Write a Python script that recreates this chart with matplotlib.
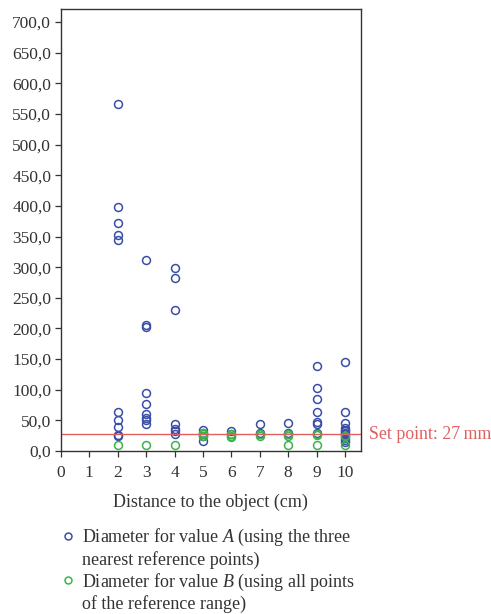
import matplotlib
matplotlib.use('Agg')
import matplotlib.pyplot as plt
from matplotlib.lines import Line2D
from matplotlib.ticker import FuncFormatter, MultipleLocator
import matplotlib.transforms as mtransforms

plt.rcParams['font.family'] = ['Liberation Serif', 'DejaVu Serif']
plt.rcParams['mathtext.fontset'] = 'custom'
plt.rcParams['mathtext.it'] = 'Liberation Serif:italic'
plt.rcParams['mathtext.rm'] = 'Liberation Serif'

# Diameter for value A (three nearest reference points), per distance
dist_a = ([2] * 10 + [3] * 9 + [4] * 7 + [5] * 4 + [6] * 2 + [7] * 3
          + [8] * 3 + [9] * 7 + [10] * 12)
diam_a = [566, 399, 372, 352, 345, 63, 51, 39, 26, 25,
          312, 206, 202, 94, 77, 61, 54, 50, 44,
          298, 282, 230, 44, 36, 32, 28,
          34, 29, 25, 17,
          32, 28,
          44, 29, 27,
          46, 29, 27,
          139, 102, 85, 64, 47, 44, 29,
          145, 64, 46, 38, 35, 32, 30, 27, 24, 21, 18, 15]

# Diameter for value B (all points of the reference range)
dist_b = [2, 3, 4, 5, 5, 5, 6, 6, 6, 7, 7, 8, 8, 8, 9, 9, 9, 10, 10]
diam_b = [9, 9, 9, 30, 27, 25, 28, 25, 23, 28, 25, 28, 25, 9, 28, 26, 9, 25, 9]

set_point = 27
x_ticks = list(range(0, 11))

blue = '#3a4ea6'
green = '#3db34a'
red = '#e06060'
txt = '#333333'

fig = plt.figure(figsize=(4.91, 6.14), dpi=100)
ax = fig.add_axes([0.124, 0.2655, 0.611, 0.7195])

ax.plot(dist_a, diam_a, 'o', ms=5.7, mfc='none', mec=blue, mew=1.1)
ax.plot(dist_b, diam_b, 'o', ms=5.7, mfc='none', mec=green, mew=1.1)
ax.axhline(set_point, color=red, lw=1)

trans = mtransforms.blended_transform_factory(ax.transAxes, ax.transData)
ax.text(1.027, set_point, 'Set point: 27\u2009mm', color=red, fontsize=12.8,
        va='center', ha='left', transform=trans, clip_on=False)

ax.set_xlim(0, 10.56)
ax.set_ylim(0, 721)
ax.set_xticks(x_ticks)
ax.yaxis.set_major_locator(MultipleLocator(50))
ax.yaxis.set_major_formatter(FuncFormatter(lambda v, p: f'{v:.1f}'.replace('.', ',')))
ax.tick_params(direction='out', length=4, width=0.9, labelsize=12.5, colors=txt)
ax.tick_params(axis='x', pad=6)
ax.tick_params(axis='y', pad=3)
for s in ax.spines.values():
    s.set_linewidth(1)
    s.set_color(txt)

ax.set_xlabel('Distance to the object (cm)', fontsize=13, color=txt, labelpad=9)

handles = [
    Line2D([], [], ls='none', marker='o', ms=5, mfc='none', mec=blue, mew=1.1),
    Line2D([], [], ls='none'),
    Line2D([], [], ls='none', marker='o', ms=5, mfc='none', mec=green, mew=1.1),
    Line2D([], [], ls='none'),
]
labels = [
    'Diameter for value $A$ (using the three',
    'nearest reference points)',
    'Diameter for value $B$ (using all points',
    'of the reference range)',
]
leg = fig.legend(handles, labels, loc='upper left', frameon=False, fontsize=13,
                 handlelength=0.9, handletextpad=0.35, labelspacing=0.15,
                 borderaxespad=0, borderpad=0)
for t in leg.get_texts():
    t.set_color(txt)
leg.set_bbox_to_anchor((0.121, 1 - 527 / 614), transform=fig.transFigure)

fig.savefig('out.png', dpi=100)
